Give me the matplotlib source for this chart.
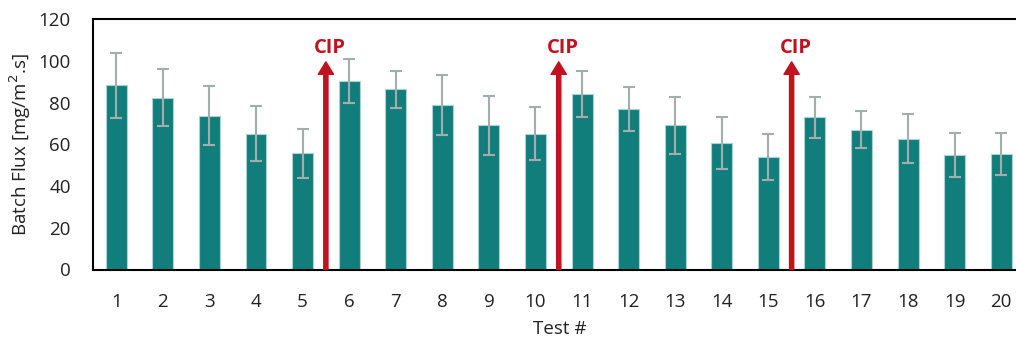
import matplotlib
matplotlib.use("Agg")
import matplotlib.pyplot as plt

tests = [str(i) for i in range(1, 21)]
flux = [88.3, 82.4, 73.8, 65.1, 55.7, 90.4, 86.4, 78.9, 69.1, 65.1,
        84.3, 77.0, 69.1, 60.8, 53.8, 73.0, 67.1, 62.7, 54.9, 55.4]
err = [15.7, 13.8, 14.1, 13.3, 11.9, 10.4, 9.0, 14.6, 14.1, 12.6,
       11.0, 10.7, 13.6, 12.4, 11.0, 9.9, 8.7, 11.7, 10.6, 10.1]
cip_after = [5, 10, 15]
cip_label = "CIP"

plt.rcParams['font.family'] = ['Open Sans', 'DejaVu Sans']

AX_W = 931.5
fig = plt.figure(figsize=(10.16, 3.39), dpi=100)
ax = fig.add_axes([93 / 1016, (339 - 269.5) / 339, AX_W / 1016, 250.2 / 339])

x = list(range(1, len(tests) + 1))
ax.bar(x, flux, width=0.45, color='#127E7B', edgecolor='#A9D3D1', linewidth=0.8,
       yerr=err, error_kw=dict(ecolor='#A3ADAD', elinewidth=1.5, capsize=4, capthick=1.5),
       zorder=2)

for c in cip_after:
    xc = c + 0.5
    ax.annotate('', xy=(xc, 99.6), xytext=(xc, 0),
                arrowprops=dict(facecolor='#C0121F', edgecolor='#C0121F', width=3,
                                headwidth=11, headlength=9, shrink=0),
                zorder=3)
    ax.text(xc + 0.09, 101.5, cip_label, ha='center', va='bottom', color='#C0121F',
            fontsize=14.5, fontweight='bold')

ax.set_xlim(0.5, 20.5)
ax.set_ylim(0, 120)
ax.set_yticks(range(0, 121, 20))
ax.set_xticks(x)
ax.set_xticklabels(tests)
ax.tick_params(axis='both', length=0, labelsize=13.5, colors='#222222')
ax.tick_params(axis='x', pad=17)
ax.tick_params(axis='y', pad=16)
for s in ax.spines.values():
    s.set_linewidth(1.5)
    s.set_color('black')

ax.set_ylabel('Batch Flux [mg/m$^2$.s]', fontsize=13.5, color='#222222')
ax.yaxis.set_label_coords(-60 / AX_W, 0.5)
ax.set_xlabel('Test #', fontsize=13.5, color='#222222')
ax.xaxis.set_label_coords((560 - 93) / AX_W, -0.2)

fig.savefig('out.png', dpi=100)
